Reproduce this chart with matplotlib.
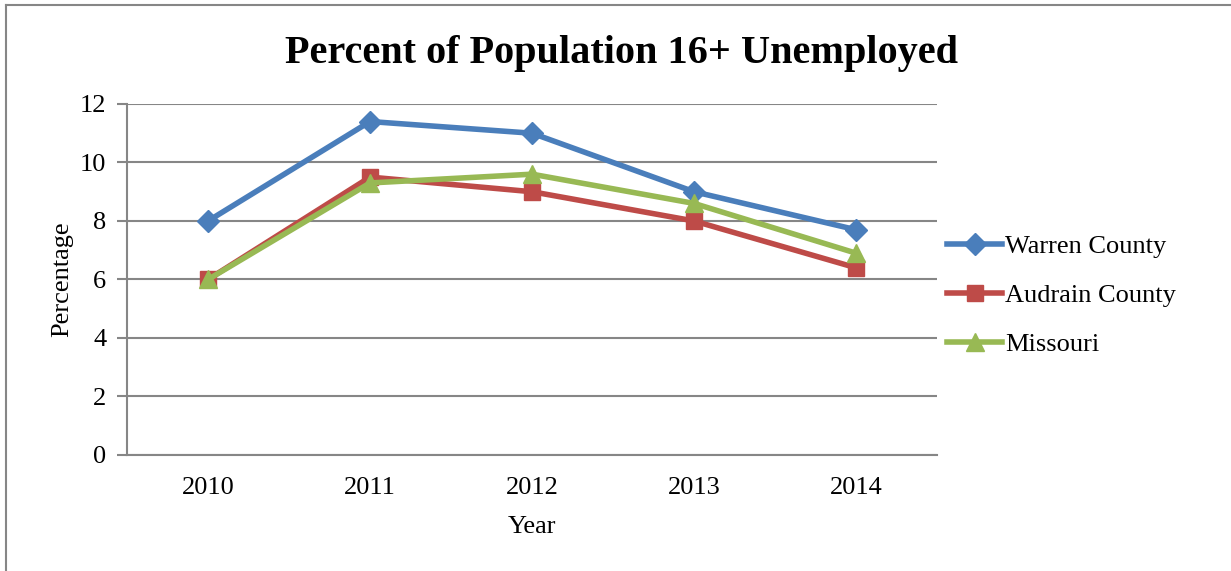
import matplotlib.pyplot as plt
from matplotlib.lines import Line2D

years = ["2010", "2011", "2012", "2013", "2014"]
warren = [8.0, 11.4, 11.0, 9.0, 7.7]
audrain = [6.0, 9.5, 9.0, 8.0, 6.4]
missouri = [6.0, 9.3, 9.6, 8.6, 6.9]

series = [
    ("Warren County", warren, "#4a7ebb", "D", 11),
    ("Audrain County", audrain, "#be4b48", "s", 12),
    ("Missouri", missouri, "#98b954", "^", 13),
]

plt.rcParams["font.family"] = ["Liberation Serif", "DejaVu Serif"]

fig = plt.figure(figsize=(12.31, 5.71), dpi=100)
ax = fig.add_axes([0.1032, 0.2032, 0.658, 0.6147])

x = list(range(len(years)))
for name, vals, color, marker, ms in series:
    ax.plot(x, vals, color=color, lw=4, marker=marker, markersize=ms,
            label=name, solid_joinstyle="round")

ax.set_xlim(-0.5, len(years) - 0.5)
ax.set_ylim(0, 12)
ax.set_yticks(range(0, 13, 2))
ax.set_xticks(x)
ax.set_xticklabels(years)
ax.grid(axis="y", color="#868686", lw=1.5)
ax.set_axisbelow(True)
for side in ["top", "right"]:
    ax.spines[side].set_visible(False)
for side in ["left", "bottom"]:
    ax.spines[side].set_color("#868686")
    ax.spines[side].set_linewidth(1.5)
ax.tick_params(axis="y", length=7, width=1.5, color="#868686", labelsize=19, pad=8)
ax.tick_params(axis="x", length=0, labelsize=19, pad=16)

ax.set_xlabel("Year", fontsize=19, labelpad=12)
ax.set_ylabel("Percentage", fontsize=19, labelpad=5)
fig.suptitle("Percent of Population 16+ Unemployed", fontsize=29,
             fontweight="bold", x=0.505, y=0.938)

fig.legend(loc="center left", bbox_to_anchor=(0.750, 0.483), frameon=False,
           fontsize=19, handlelength=2.1, labelspacing=0.96, handletextpad=0.1)

# chart frame
fig.add_artist(Line2D([0.005, 0.005], [0, 0.992], transform=fig.transFigure,
                      color="#868686", lw=1.5))
fig.add_artist(Line2D([0.005, 1], [0.992, 0.992], transform=fig.transFigure,
                      color="#868686", lw=1.5))

fig.savefig("out.png", dpi=100)
